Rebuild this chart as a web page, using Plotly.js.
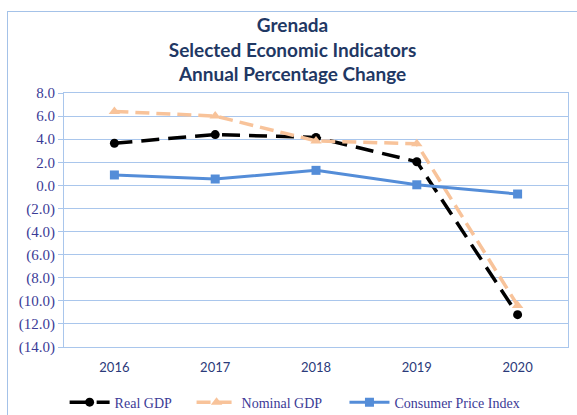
<!DOCTYPE html>
<html><head><meta charset="utf-8">
<script src="https://cdn.plot.ly/plotly-3.0.1.min.js"></script>
<style>
html,body{margin:0;padding:0;width:577px;height:415px;overflow:hidden;background:#fff;}
#chart{position:absolute;left:0;top:0;width:577px;height:415px;}
#frame{position:absolute;left:7px;top:11px;width:600px;height:440px;border:1.5px solid #a4c2e8;pointer-events:none;}
</style></head>
<body>
<div id="chart"></div>
<div id="frame"></div>
<script>
const years = ['2016','2017','2018','2019','2020'];
const realGDP = [3.65, 4.4, 4.15, 2.05, -11.2];
const nominalGDP = [6.4, 6.0, 3.85, 3.6, -10.4];
const cpi = [0.9, 0.55, 1.3, 0.05, -0.75];
const yTickVals = [8,6,4,2,0,-2,-4,-6,-8,-10,-12,-14];
const yTickText = ['8.0','6.0','4.0','2.0','0.0','(2.0)','(4.0)','(6.0)','(8.0)','(10.0)','(12.0)','(14.0)'];

const grid = '#a9c6ec';
const legFont = {family:'Liberation Serif, serif', size:14, color:'#3b3b96'};

const traces = [
  {x:years, y:realGDP, name:'Real GDP', type:'scatter', mode:'lines+markers',
   line:{color:'#000000', width:3.5, dash:'18px,9px'},
   marker:{symbol:'circle', size:9, color:'#000000'}, legend:'legend'},
  {x:years, y:nominalGDP, name:'Nominal GDP', type:'scatter', mode:'lines+markers',
   line:{color:'#f8c39a', width:3.5, dash:'14px,7px'},
   marker:{symbol:'triangle-up', size:10, color:'#f8c39a'}, legend:'legend2'},
  {x:years, y:cpi, name:'Consumer Price Index', type:'scatter', mode:'lines+markers',
   line:{color:'#548dd8', width:3},
   marker:{symbol:'square', size:9, color:'#548dd8'}, legend:'legend3'}
];

const legBase = {orientation:'h', xref:'container', yref:'container', yanchor:'middle', y:0.03, xanchor:'left',
  font:legFont, bgcolor:'rgba(0,0,0,0)', itemwidth:40};

const layout = {
  width:577, height:415,
  margin:{l:64, r:9, t:93, b:68},
  paper_bgcolor:'rgba(0,0,0,0)', plot_bgcolor:'#ffffff',
  title:{text:'<b>Grenada<br>Selected Economic Indicators<br>Annual Percentage Change</b>',
    font:{family:'Lato, sans-serif', size:19, color:'#1f3864'}, x:0.507, xanchor:'center',
    yref:'container', y:0.923, yanchor:'top'},
  xaxis:{type:'category', range:[-0.5,4.5], showgrid:false, showline:true, linecolor:grid, linewidth:1, mirror:true,
    ticks:'', tickfont:{family:'Lato, sans-serif', size:13, color:'#2b3a7a'}, ticklabelstandoff:8, zeroline:false, fixedrange:true},
  yaxis:{range:[-14,8], tickvals:yTickVals, ticktext:yTickText, showgrid:true, gridcolor:grid, gridwidth:1,
    showline:true, linecolor:grid, linewidth:1, mirror:true, ticks:'outside', ticklen:5, tickcolor:grid,
    tickfont:{family:'Liberation Serif, serif', size:15, color:'#3b3b96'}, zeroline:false, fixedrange:true},
  showlegend:true,
  legend:Object.assign({}, legBase, {x:0.112}),
  legend2:Object.assign({}, legBase, {x:0.332}),
  legend3:Object.assign({}, legBase, {x:0.597})
};

Plotly.newPlot('chart', traces, layout, {displayModeBar:false, staticPlot:true});
</script>
</body></html>
